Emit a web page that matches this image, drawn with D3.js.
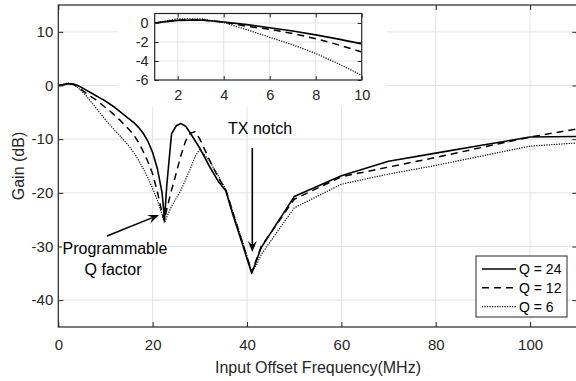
<!DOCTYPE html>
<html>
<head>
<meta charset="utf-8">
<script src="https://cdn.jsdelivr.net/npm/d3@7"></script>
<style>
  body { margin: 0; background: #fff; }
  svg { display: block; font-family: "Liberation Sans", Arial, sans-serif; }
  .tick text { fill: #262626; }
</style>
</head>
<body>
<svg id="chart" width="576" height="381"></svg>
<script>
// frequency points of the main sweep (MHz)
const freq = [0, 1, 2, 3, 4, 5, 6, 7, 8, 9, 10, 11, 12, 13, 14, 15, 16, 17, 18, 19, 20, 21, 22, 22.5,
  23, 24, 25, 26, 27, 28, 29, 30, 32, 34, 35.5, 37, 39, 40, 41, 42, 43, 50, 60, 70, 80, 90, 100, 110];

// gain (dB)
const gainQ24 = [0, 0.15, 0.3, 0.3, 0.05, -0.4, -0.9, -1.4, -1.9, -2.4, -2.9, -3.5, -4.1, -4.8, -5.5, -6.2, -6.9, -7.8, -8.9, -10.4, -12.5, -15.5, -20, -25,
  -18.5, -9.0, -7.5, -7.1, -7.6, -8.9, -10.3, -11.7, -15, -18, -19.6, -24.1, -29.5, -32.3, -35, -32.6, -30.2, -20.7, -16.8, -14.1, -12.6, -11.1, -9.6, -9.5];
const gainQ12 = [0, 0.15, 0.3, 0.25, -0.2, -0.8, -1.5, -2.1, -2.7, -3.4, -4.1, -4.8, -5.6, -6.4, -7.3, -8.2, -9.2, -10.6, -12.3, -14.2, -16.5, -19.8, -23.8, -25.2,
  -23, -19.5, -16.3, -13, -10.3, -8.9, -8.6, -10, -13.8, -17.3, -19.4, -23.7, -29.2, -32, -34.8, -32.4, -30, -21.2, -17, -15.2, -13.4, -11.5, -9.6, -8.1];
const gainQ6 = [0, 0.2, 0.45, 0.35, -0.3, -1.1, -2, -3.1, -4.2, -5.3, -6.4, -7.4, -8.4, -9.3, -10.3, -11.3, -12.5, -13.9, -15.5, -17.2, -19.2, -21.4, -24, -25.6,
  -24.5, -22.5, -21, -19.5, -17.5, -15.5, -13.2, -11.9, -14, -17, -19.4, -23.5, -29, -31.8, -34.6, -33.5, -31.5, -22.8, -18.4, -16.5, -14.9, -13.1, -11.3, -10.7];

// zoomed inset, 1..10 MHz
const insetFreq = [1, 2, 3, 4, 5, 6, 7, 8, 9, 10];
const insetQ24 = [0, 0.28, 0.32, 0.1, -0.17, -0.5, -0.85, -1.25, -1.7, -2.2];
const insetQ12 = [0, 0.3, 0.33, 0.1, -0.35, -0.66, -1.1, -1.65, -2.3, -3.05];
const insetQ6 = [0, 0.45, 0.45, 0.05, -0.7, -1.5, -2.3, -3.2, -4.3, -5.5];

const xTicks = [0, 20, 40, 60, 80, 100];
const yTicks = [-40, -30, -20, -10, 0, 10];
const insetXTicks = [2, 4, 6, 8, 10];
const insetYTicks = [-6, -4, -2, 0];
const seriesNames = ["Q = 24", "Q = 12", "Q = 6"];

const dashes = [null, "7,5", "1.2,1.3"];
const widths = [1.6, 1.5, 1.2];
const ink = "#000";
const axisInk = "#262626";
const gridInk = "#e3e3e3";

const svg = d3.select("#chart");
const pLeft = 58.3, pRight = 577.3, pTop = 5, pBottom = 327;

const x = d3.scaleLinear().domain([0, 110]).range([pLeft, pRight]);
const y = d3.scaleLinear().domain([-45, 15]).range([pBottom, pTop]);

const defs = svg.append("defs");
defs.append("clipPath").attr("id", "plotclip")
  .append("rect").attr("x", pLeft).attr("y", pTop)
  .attr("width", pRight - pLeft).attr("height", pBottom - pTop);

// grid
const grid = svg.append("g").attr("stroke", gridInk).attr("stroke-width", 1);
xTicks.slice(1).forEach(t => {
  grid.append("line").attr("x1", x(t)).attr("x2", x(t)).attr("y1", pTop).attr("y2", pBottom);
});
yTicks.forEach(t => {
  grid.append("line").attr("x1", pLeft).attr("x2", pRight).attr("y1", y(t)).attr("y2", y(t));
});

// curves
const mainLine = d3.line().x(d => x(d[0])).y(d => y(d[1]));
const mainSeries = [gainQ24, gainQ12, gainQ6];
const curves = svg.append("g").attr("clip-path", "url(#plotclip)");
mainSeries.forEach((s, i) => {
  curves.append("path")
    .datum(freq.map((f, k) => [f, s[k]]))
    .attr("d", mainLine)
    .attr("fill", "none")
    .attr("stroke", ink)
    .attr("stroke-width", widths[i])
    .attr("stroke-linejoin", "round")
    .attr("stroke-dasharray", dashes[i]);
});

// axes (inward ticks on all four sides)
const xAxis = svg.append("g")
  .attr("transform", `translate(0,${pBottom})`)
  .call(d3.axisBottom(x).tickValues(xTicks).tickSizeInner(-5).tickSizeOuter(0).tickPadding(12));
xAxis.selectAll("text").attr("font-size", 15).attr("dy", "0.71em");
const yAxis = svg.append("g")
  .attr("transform", `translate(${pLeft},0)`)
  .call(d3.axisLeft(y).tickValues(yTicks).tickSizeInner(-5).tickSizeOuter(0).tickPadding(5));
yAxis.selectAll("text").attr("font-size", 15);
svg.append("g").attr("transform", `translate(0,${pTop})`)
  .call(d3.axisTop(x).tickValues(xTicks).tickSizeInner(-5).tickSizeOuter(0).tickFormat(""));
svg.append("g").attr("transform", `translate(${pRight},0)`)
  .call(d3.axisRight(y).tickValues(yTicks).tickSizeInner(-5).tickSizeOuter(0).tickFormat(""));

// inset
const iLeft = 154.7, iRight = 361.7, iTop = 13.5, iBottom = 80;
svg.append("rect").attr("x", 118).attr("y", pTop).attr("width", 269).attr("height", 102).attr("fill", "#fff");
const ix = d3.scaleLinear().domain([1, 10]).range([iLeft, iRight]);
const iy = d3.scaleLinear().domain([-6, 1]).range([iBottom, iTop]);
defs.append("clipPath").attr("id", "insetclip")
  .append("rect").attr("x", iLeft).attr("y", iTop)
  .attr("width", iRight - iLeft).attr("height", iBottom - iTop);
const igrid = svg.append("g").attr("stroke", gridInk);
insetXTicks.slice(0, -1).forEach(t => {
  igrid.append("line").attr("x1", ix(t)).attr("x2", ix(t)).attr("y1", iTop).attr("y2", iBottom);
});
insetYTicks.slice(1).forEach(t => {
  igrid.append("line").attr("x1", iLeft).attr("x2", iRight).attr("y1", iy(t)).attr("y2", iy(t));
});
const insetLine = d3.line().x(d => ix(d[0])).y(d => iy(d[1]));
const insetCurves = svg.append("g").attr("clip-path", "url(#insetclip)");
[insetQ24, insetQ12, insetQ6].forEach((s, i) => {
  insetCurves.append("path")
    .datum(insetFreq.map((f, k) => [f, s[k]]))
    .attr("d", insetLine)
    .attr("fill", "none")
    .attr("stroke", ink)
    .attr("stroke-width", widths[i])
    .attr("stroke-dasharray", dashes[i]);
});
const ixAxis = svg.append("g").attr("transform", `translate(0,${iBottom})`)
  .call(d3.axisBottom(ix).tickValues(insetXTicks).tickSizeInner(-4).tickSizeOuter(0).tickPadding(10));
ixAxis.selectAll("text").attr("font-size", 14.5).attr("dy", "0.71em");
const iyAxis = svg.append("g").attr("transform", `translate(${iLeft},0)`)
  .call(d3.axisLeft(iy).tickValues(insetYTicks).tickFormat(d3.format("d"))
    .tickSizeInner(-4).tickSizeOuter(0).tickPadding(6));
iyAxis.selectAll("text").attr("font-size", 14.5);
svg.append("g").attr("transform", `translate(0,${iTop})`)
  .call(d3.axisTop(ix).tickValues(insetXTicks).tickSizeInner(-4).tickSizeOuter(0).tickFormat(""));
svg.append("g").attr("transform", `translate(${iRight},0)`)
  .call(d3.axisRight(iy).tickValues(insetYTicks).tickSizeInner(-4).tickSizeOuter(0).tickFormat(""));
svg.selectAll(".domain").remove();
svg.selectAll(".tick line").attr("stroke", axisInk);
svg.selectAll(".tick text").text(function() { return this.textContent.replace("−", "-"); });
svg.append("rect").attr("x", iLeft).attr("y", iTop)
  .attr("width", iRight - iLeft).attr("height", iBottom - iTop)
  .attr("fill", "none").attr("stroke", axisInk).attr("stroke-width", 1.2);

// main frame
svg.append("rect").attr("x", pLeft).attr("y", pTop)
  .attr("width", pRight - pLeft).attr("height", pBottom - pTop)
  .attr("fill", "none").attr("stroke", axisInk).attr("stroke-width", 1.2);

// axis titles
svg.append("text").attr("x", 318).attr("y", 373).attr("text-anchor", "middle")
  .attr("font-size", 16).attr("fill", axisInk).text("Input Offset Frequency(MHz)");
svg.append("text").attr("transform", "translate(24,166) rotate(-90)").attr("text-anchor", "middle")
  .attr("font-size", 16).attr("fill", axisInk).text("Gain (dB)");

// legend
const lg = svg.append("g");
lg.append("rect").attr("x", 476).attr("y", 256).attr("width", 91).attr("height", 61)
  .attr("fill", "#fff").attr("stroke", axisInk).attr("stroke-width", 1);
seriesNames.forEach((name, i) => {
  const yy = 269 + i * 18.8;
  lg.append("line").attr("x1", 482).attr("x2", 516).attr("y1", yy).attr("y2", yy)
    .attr("stroke", ink).attr("stroke-width", widths[i]).attr("stroke-dasharray", dashes[i]);
  lg.append("text").attr("x", 519).attr("y", yy).attr("dy", "0.36em")
    .attr("font-size", 14).attr("fill", ink).text(name);
});

// annotations
function arrow(x1, y1, x2, y2) {
  const a = Math.atan2(y2 - y1, x2 - x1);
  const len = 11, half = 4.5, back = 7;
  const bx = x2 - len * Math.cos(a), by = y2 - len * Math.sin(a);
  const nx = -Math.sin(a), ny = Math.cos(a);
  const mx = x2 - back * Math.cos(a), my = y2 - back * Math.sin(a);
  svg.append("line").attr("x1", x1).attr("y1", y1).attr("x2", mx).attr("y2", my)
    .attr("stroke", ink).attr("stroke-width", 1.6);
  svg.append("path")
    .attr("d", `M${x2},${y2}L${bx + nx * half},${by + ny * half}L${mx},${my}L${bx - nx * half},${by - ny * half}Z`)
    .attr("fill", ink);
}
svg.append("text").attr("x", 228).attr("y", 134).attr("font-size", 16).attr("fill", ink).text("TX notch");
arrow(252.3, 148, 252.3, 252);

const pq = svg.append("g");
pq.append("rect").attr("x", 62).attr("y", 241).attr("width", 106).attr("height", 16).attr("fill", "#fff");
pq.append("text").attr("x", 115).attr("y", 254).attr("text-anchor", "middle")
  .attr("font-size", 16).attr("fill", ink).text("Programmable");
pq.append("text").attr("x", 113).attr("y", 275).attr("text-anchor", "middle")
  .attr("font-size", 16).attr("fill", ink).text("Q factor");
arrow(107, 236, 159, 215);
</script>
</body>
</html>
